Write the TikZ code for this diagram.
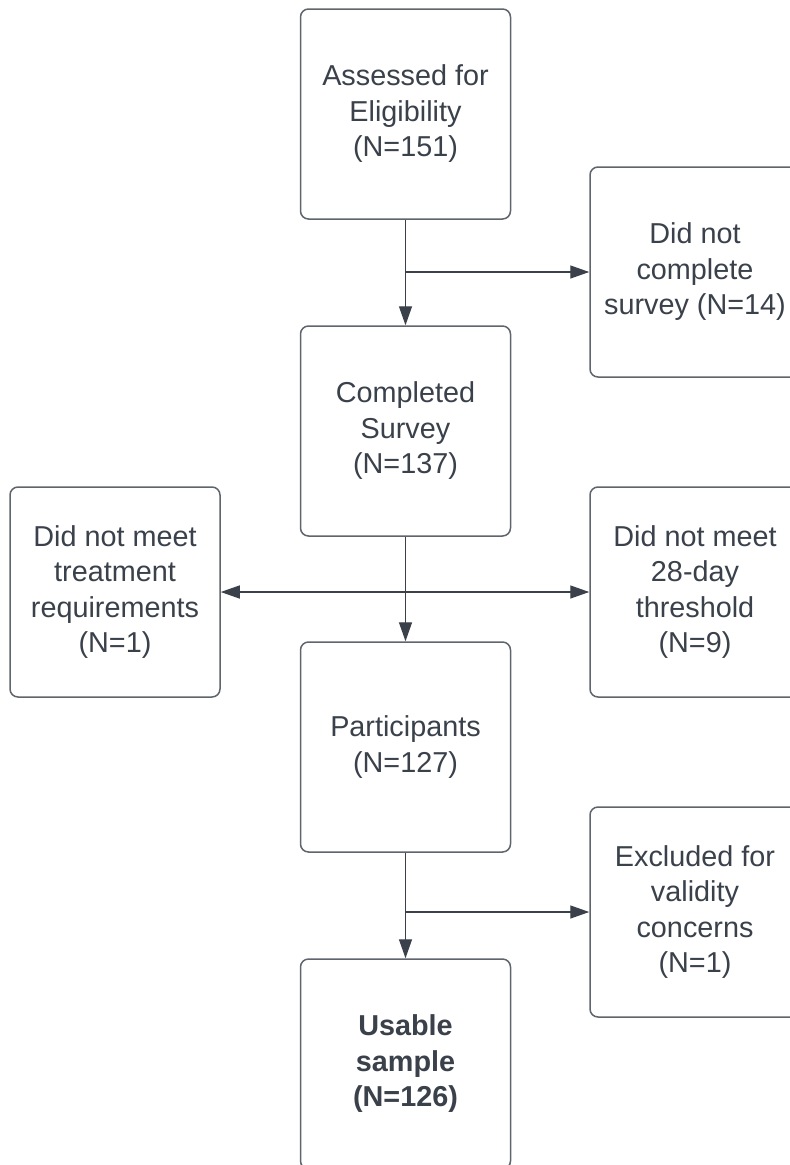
\documentclass[tikz,border=0pt]{standalone}
\usepackage{fontspec}
\setmainfont{Liberation Sans}
\usepackage{tikz}
\usetikzlibrary{arrows.meta}
\definecolor{ink}{HTML}{3A414B}
\definecolor{edge}{HTML}{5F656D}

\begin{document}
\begin{tikzpicture}[x=1pt, y=-1pt,
    box/.style={draw=edge, line width=1.5pt, rounded corners=8pt, fill=white,
        minimum width=210pt, minimum height=210pt, align=center, text=ink,
        font=\fontsize{28.8}{35.5}\selectfont},
    arr/.style={draw=ink, line width=1.4pt, -{Triangle[length=19pt, width=13pt]}}]
    \useasboundingbox (0, 0) rectangle (790, 1165);
    \clip (0, 0) rectangle (790, 1165);

    % Main column
    \node[box] (assess) at (405.5, 114) {Assessed for\\Eligibility\\(N=151)};
    \node[box] (completed) at (405.5, 431) {Completed\\Survey\\(N=137)};
    \node[box] (participants) at (405.5, 747) {Participants\\(N=127)};
    \node[box] (usable) at (405.5, 1064) {\textbf{Usable}\\\textbf{sample}\\\textbf{(N=126)}};

    % Exclusions
    \node[box] (notcomplete) at (695, 272) {Did not\\complete\\survey (N=14)};
    \node[box] (nottreat) at (115, 592) {Did not meet\\treatment\\requirements\\(N=1)};
    \node[box] (notthresh) at (695, 592) {Did not meet\\28-day\\threshold\\(N=9)};
    \node[box] (excluded) at (695, 912) {Excluded for\\validity\\concerns\\(N=1)};

    % Branch points
    \coordinate (b1) at (assess.south |- notcomplete.west);
    \coordinate (b2) at (completed.south |- notthresh.west);
    \coordinate (b3) at (participants.south |- excluded.west);

    % Flow
    \draw[arr] (assess.south) -- (completed.north);
    \draw[arr] (b1) -- (notcomplete.west);
    \draw[arr] (completed.south) -- (participants.north);
    \draw[arr] (b2) -- (nottreat.east);
    \draw[arr] (b2) -- (notthresh.west);
    \draw[arr] (participants.south) -- (usable.north);
    \draw[arr] (b3) -- (excluded.west);
\end{tikzpicture}
\end{document}
